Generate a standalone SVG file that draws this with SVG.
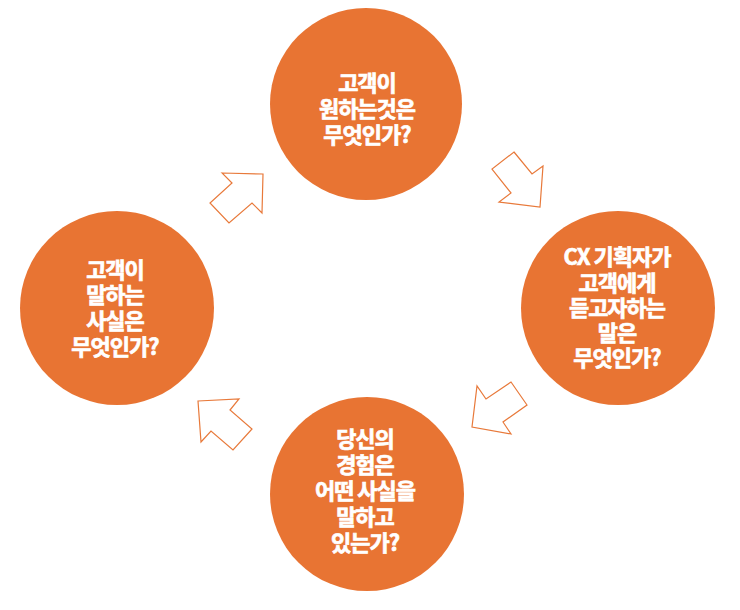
<svg xmlns="http://www.w3.org/2000/svg" width="740" height="610" viewBox="0 0 740 610">
<style>
.c{fill:#E87433}
.t{fill:#fff;stroke:#fff;stroke-width:0.7px;font-family:"Noto Sans CJK KR","Noto Sans",sans-serif;font-weight:bold;font-size:22px;letter-spacing:-1px;text-anchor:middle}
.a{fill:#fff;stroke:#E8793A;stroke-width:1.2;stroke-linejoin:miter}
</style>
<rect width="740" height="610" fill="#fff"/>
<g id="connectors">
<polygon class="a" points="222,173 263,174 262,213 252,203 229,223 210,203 232,183"/>
<polygon class="a" points="514,152 532,174 543,166 540,207 499,202 511,193 492,169"/>
<polygon class="a" points="511,382 527,405 503,422 511,434 472,427 477,386 486,399"/>
<polygon class="a" points="198,401 239,399 230,410 252,429 233,450 211,431 201,442"/>
</g>
<g id="node-top">
<circle class="c" cx="366" cy="104" r="96"/>
<text class="t" x="367"><tspan x="367" y="91">고객이</tspan><tspan x="367" y="117">원하는것은</tspan><tspan x="367" y="143">무엇인가?</tspan></text>
</g>
<g id="node-right">
<circle class="c" cx="618" cy="308" r="97"/>
<text class="t" x="617"><tspan x="617" y="265">CX 기획자가</tspan><tspan x="617" y="291">고객에게</tspan><tspan x="617" y="316">듣고자하는</tspan><tspan x="617" y="341">말은</tspan><tspan x="617" y="366">무엇인가?</tspan></text>
</g>
<g id="node-bottom">
<circle class="c" cx="367" cy="494" r="97"/>
<text class="t" x="365"><tspan x="365" y="447">당신의</tspan><tspan x="365" y="473">경험은</tspan><tspan x="365" y="499">어떤 사실을</tspan><tspan x="365" y="525">말하고</tspan><tspan x="365" y="551">있는가?</tspan></text>
</g>
<g id="node-left">
<circle class="c" cx="117" cy="308" r="97"/>
<text class="t" x="115"><tspan x="115" y="278">고객이</tspan><tspan x="115" y="303">말하는</tspan><tspan x="115" y="329">사실은</tspan><tspan x="115" y="355">무엇인가?</tspan></text>
</g>
</svg>
